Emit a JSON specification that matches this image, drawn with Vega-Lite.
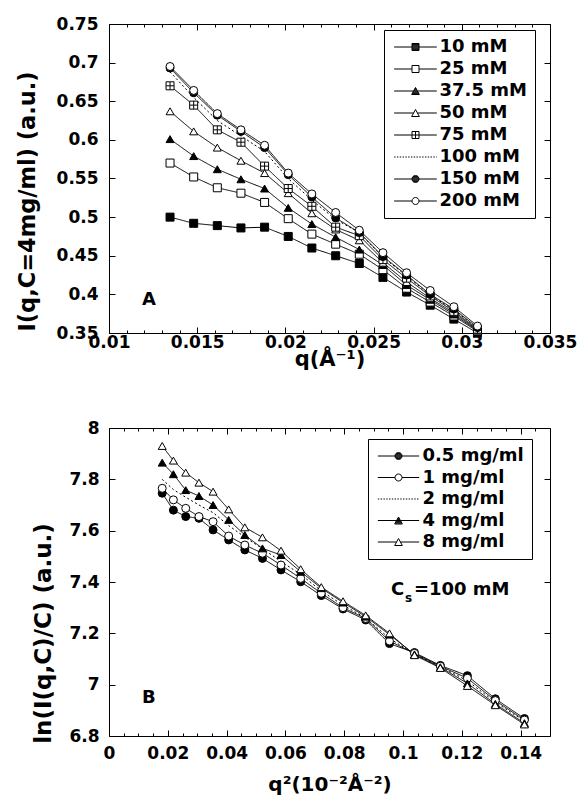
{
  "$schema": "https://vega.github.io/schema/vega-lite/v6.json",
  "autosize": {"type": "pad"},
  "padding": {"left": 15, "top": 14, "right": 0, "bottom": 0},
  "spacing": 95,
  "bounds": "flush",
  "background": "#ffffff",
  "config": {
    "view": {"stroke": "#000", "strokeWidth": 1},
    "font": "DejaVu Sans",
    "axis": {"grid": false, "domain": false, "labelFont": "DejaVu Sans", "labelFontWeight": "bold", "labelFontSize": 17, "labelColor": "#000", "tickColor": "#000", "tickWidth": 1, "titleFont": "DejaVu Sans", "titleFontWeight": "bold", "titleColor": "#000", "labelFlush": false, "labelOverlap": false, "labelBound": false},
    "text": {"font": "DejaVu Sans", "fontWeight": "bold", "fontSize": 18, "color": "#000"}
  },
  "datasets": {
    "top": [
      {"s":"10 mM","x":0.01346,"y":0.500},{"s":"10 mM","x":0.0148,"y":0.492},{"s":"10 mM","x":0.01614,"y":0.489},{"s":"10 mM","x":0.01748,"y":0.486},{"s":"10 mM","x":0.01882,"y":0.487},{"s":"10 mM","x":0.02016,"y":0.475},{"s":"10 mM","x":0.0215,"y":0.460},{"s":"10 mM","x":0.02285,"y":0.450},{"s":"10 mM","x":0.02419,"y":0.440},{"s":"10 mM","x":0.02553,"y":0.422},{"s":"10 mM","x":0.02687,"y":0.403},{"s":"10 mM","x":0.02821,"y":0.386},{"s":"10 mM","x":0.02955,"y":0.368},{"s":"10 mM","x":0.03089,"y":0.350},
      {"s":"25 mM","x":0.01346,"y":0.570},{"s":"25 mM","x":0.0148,"y":0.552},{"s":"25 mM","x":0.01614,"y":0.538},{"s":"25 mM","x":0.01748,"y":0.531},{"s":"25 mM","x":0.01882,"y":0.519},{"s":"25 mM","x":0.02016,"y":0.498},{"s":"25 mM","x":0.0215,"y":0.478},{"s":"25 mM","x":0.02285,"y":0.465},{"s":"25 mM","x":0.02419,"y":0.452},{"s":"25 mM","x":0.02553,"y":0.432},{"s":"25 mM","x":0.02687,"y":0.408},{"s":"25 mM","x":0.02821,"y":0.390},{"s":"25 mM","x":0.02955,"y":0.372},{"s":"25 mM","x":0.03089,"y":0.352},
      {"s":"37.5 mM","x":0.01346,"y":0.601},{"s":"37.5 mM","x":0.0148,"y":0.579},{"s":"37.5 mM","x":0.01614,"y":0.562},{"s":"37.5 mM","x":0.01748,"y":0.549},{"s":"37.5 mM","x":0.01882,"y":0.537},{"s":"37.5 mM","x":0.02016,"y":0.512},{"s":"37.5 mM","x":0.0215,"y":0.491},{"s":"37.5 mM","x":0.02285,"y":0.474},{"s":"37.5 mM","x":0.02419,"y":0.458},{"s":"37.5 mM","x":0.02553,"y":0.438},{"s":"37.5 mM","x":0.02687,"y":0.412},{"s":"37.5 mM","x":0.02821,"y":0.393},{"s":"37.5 mM","x":0.02955,"y":0.374},{"s":"37.5 mM","x":0.03089,"y":0.353},
      {"s":"50 mM","x":0.01346,"y":0.637},{"s":"50 mM","x":0.0148,"y":0.611},{"s":"50 mM","x":0.01614,"y":0.590},{"s":"50 mM","x":0.01748,"y":0.573},{"s":"50 mM","x":0.01882,"y":0.557},{"s":"50 mM","x":0.02016,"y":0.531},{"s":"50 mM","x":0.0215,"y":0.505},{"s":"50 mM","x":0.02285,"y":0.484},{"s":"50 mM","x":0.02419,"y":0.470},{"s":"50 mM","x":0.02553,"y":0.441},{"s":"50 mM","x":0.02687,"y":0.416},{"s":"50 mM","x":0.02821,"y":0.395},{"s":"50 mM","x":0.02955,"y":0.376},{"s":"50 mM","x":0.03089,"y":0.354},
      {"s":"75 mM","x":0.01346,"y":0.670},{"s":"75 mM","x":0.0148,"y":0.645},{"s":"75 mM","x":0.01614,"y":0.613},{"s":"75 mM","x":0.01748,"y":0.597},{"s":"75 mM","x":0.01882,"y":0.566},{"s":"75 mM","x":0.02016,"y":0.537},{"s":"75 mM","x":0.0215,"y":0.514},{"s":"75 mM","x":0.02285,"y":0.487},{"s":"75 mM","x":0.02419,"y":0.476},{"s":"75 mM","x":0.02553,"y":0.445},{"s":"75 mM","x":0.02687,"y":0.421},{"s":"75 mM","x":0.02821,"y":0.398},{"s":"75 mM","x":0.02955,"y":0.378},{"s":"75 mM","x":0.03089,"y":0.355},
      {"s":"100 mM","x":0.01346,"y":0.688},{"s":"100 mM","x":0.0148,"y":0.655},{"s":"100 mM","x":0.01614,"y":0.625},{"s":"100 mM","x":0.01748,"y":0.605},{"s":"100 mM","x":0.01882,"y":0.585},{"s":"100 mM","x":0.02016,"y":0.550},{"s":"100 mM","x":0.0215,"y":0.522},{"s":"100 mM","x":0.02285,"y":0.497},{"s":"100 mM","x":0.02419,"y":0.480},{"s":"100 mM","x":0.02553,"y":0.448},{"s":"100 mM","x":0.02687,"y":0.424},{"s":"100 mM","x":0.02821,"y":0.399},{"s":"100 mM","x":0.02955,"y":0.380},{"s":"100 mM","x":0.03089,"y":0.356},
      {"s":"150 mM","x":0.01346,"y":0.693},{"s":"150 mM","x":0.0148,"y":0.661},{"s":"150 mM","x":0.01614,"y":0.632},{"s":"150 mM","x":0.01748,"y":0.611},{"s":"150 mM","x":0.01882,"y":0.590},{"s":"150 mM","x":0.02016,"y":0.555},{"s":"150 mM","x":0.0215,"y":0.526},{"s":"150 mM","x":0.02285,"y":0.499},{"s":"150 mM","x":0.02419,"y":0.480},{"s":"150 mM","x":0.02553,"y":0.449},{"s":"150 mM","x":0.02687,"y":0.425},{"s":"150 mM","x":0.02821,"y":0.400},{"s":"150 mM","x":0.02955,"y":0.381},{"s":"150 mM","x":0.03089,"y":0.357},
      {"s":"200 mM","x":0.01346,"y":0.695},{"s":"200 mM","x":0.0148,"y":0.664},{"s":"200 mM","x":0.01614,"y":0.634},{"s":"200 mM","x":0.01748,"y":0.613},{"s":"200 mM","x":0.01882,"y":0.593},{"s":"200 mM","x":0.02016,"y":0.557},{"s":"200 mM","x":0.0215,"y":0.530},{"s":"200 mM","x":0.02285,"y":0.506},{"s":"200 mM","x":0.02419,"y":0.483},{"s":"200 mM","x":0.02553,"y":0.454},{"s":"200 mM","x":0.02687,"y":0.428},{"s":"200 mM","x":0.02821,"y":0.405},{"s":"200 mM","x":0.02955,"y":0.384},{"s":"200 mM","x":0.03089,"y":0.359}
    ],
    "bottom": [
      {"s":"0.5 mg/ml","x":0.0181,"y":7.746},{"s":"0.5 mg/ml","x":0.0219,"y":7.680},{"s":"0.5 mg/ml","x":0.0261,"y":7.655},{"s":"0.5 mg/ml","x":0.0306,"y":7.648},{"s":"0.5 mg/ml","x":0.0354,"y":7.603},{"s":"0.5 mg/ml","x":0.0407,"y":7.564},{"s":"0.5 mg/ml","x":0.0462,"y":7.525},{"s":"0.5 mg/ml","x":0.0522,"y":7.492},{"s":"0.5 mg/ml","x":0.0585,"y":7.447},{"s":"0.5 mg/ml","x":0.0652,"y":7.401},{"s":"0.5 mg/ml","x":0.0722,"y":7.347},{"s":"0.5 mg/ml","x":0.0796,"y":7.295},{"s":"0.5 mg/ml","x":0.0873,"y":7.252},{"s":"0.5 mg/ml","x":0.0954,"y":7.160},{"s":"0.5 mg/ml","x":0.1039,"y":7.125},{"s":"0.5 mg/ml","x":0.1127,"y":7.075},{"s":"0.5 mg/ml","x":0.1219,"y":7.035},{"s":"0.5 mg/ml","x":0.1314,"y":6.945},{"s":"0.5 mg/ml","x":0.1413,"y":6.868},
      {"s":"1 mg/ml","x":0.0181,"y":7.765},{"s":"1 mg/ml","x":0.0219,"y":7.720},{"s":"1 mg/ml","x":0.0261,"y":7.687},{"s":"1 mg/ml","x":0.0306,"y":7.655},{"s":"1 mg/ml","x":0.0354,"y":7.635},{"s":"1 mg/ml","x":0.0407,"y":7.579},{"s":"1 mg/ml","x":0.0462,"y":7.544},{"s":"1 mg/ml","x":0.0522,"y":7.512},{"s":"1 mg/ml","x":0.0585,"y":7.466},{"s":"1 mg/ml","x":0.0652,"y":7.414},{"s":"1 mg/ml","x":0.0722,"y":7.356},{"s":"1 mg/ml","x":0.0796,"y":7.300},{"s":"1 mg/ml","x":0.0873,"y":7.258},{"s":"1 mg/ml","x":0.0954,"y":7.170},{"s":"1 mg/ml","x":0.1039,"y":7.122},{"s":"1 mg/ml","x":0.1127,"y":7.072},{"s":"1 mg/ml","x":0.1219,"y":7.025},{"s":"1 mg/ml","x":0.1314,"y":6.938},{"s":"1 mg/ml","x":0.1413,"y":6.862},
      {"s":"2 mg/ml","x":0.0181,"y":7.800},{"s":"2 mg/ml","x":0.0219,"y":7.760},{"s":"2 mg/ml","x":0.0261,"y":7.730},{"s":"2 mg/ml","x":0.0306,"y":7.700},{"s":"2 mg/ml","x":0.0354,"y":7.670},{"s":"2 mg/ml","x":0.0407,"y":7.620},{"s":"2 mg/ml","x":0.0462,"y":7.575},{"s":"2 mg/ml","x":0.0522,"y":7.530},{"s":"2 mg/ml","x":0.0585,"y":7.480},{"s":"2 mg/ml","x":0.0652,"y":7.430},{"s":"2 mg/ml","x":0.0722,"y":7.365},{"s":"2 mg/ml","x":0.0796,"y":7.310},{"s":"2 mg/ml","x":0.0873,"y":7.260},{"s":"2 mg/ml","x":0.0954,"y":7.180},{"s":"2 mg/ml","x":0.1039,"y":7.120},{"s":"2 mg/ml","x":0.1127,"y":7.070},{"s":"2 mg/ml","x":0.1219,"y":7.015},{"s":"2 mg/ml","x":0.1314,"y":6.932},{"s":"2 mg/ml","x":0.1413,"y":6.858},
      {"s":"4 mg/ml","x":0.0181,"y":7.865},{"s":"4 mg/ml","x":0.0219,"y":7.820},{"s":"4 mg/ml","x":0.0261,"y":7.758},{"s":"4 mg/ml","x":0.0306,"y":7.735},{"s":"4 mg/ml","x":0.0354,"y":7.700},{"s":"4 mg/ml","x":0.0407,"y":7.642},{"s":"4 mg/ml","x":0.0462,"y":7.583},{"s":"4 mg/ml","x":0.0522,"y":7.531},{"s":"4 mg/ml","x":0.0585,"y":7.505},{"s":"4 mg/ml","x":0.0652,"y":7.440},{"s":"4 mg/ml","x":0.0722,"y":7.376},{"s":"4 mg/ml","x":0.0796,"y":7.320},{"s":"4 mg/ml","x":0.0873,"y":7.265},{"s":"4 mg/ml","x":0.0954,"y":7.195},{"s":"4 mg/ml","x":0.1039,"y":7.118},{"s":"4 mg/ml","x":0.1127,"y":7.068},{"s":"4 mg/ml","x":0.1219,"y":7.005},{"s":"4 mg/ml","x":0.1314,"y":6.925},{"s":"4 mg/ml","x":0.1413,"y":6.850},
      {"s":"8 mg/ml","x":0.0181,"y":7.930},{"s":"8 mg/ml","x":0.0219,"y":7.873},{"s":"8 mg/ml","x":0.0261,"y":7.826},{"s":"8 mg/ml","x":0.0306,"y":7.787},{"s":"8 mg/ml","x":0.0354,"y":7.752},{"s":"8 mg/ml","x":0.0407,"y":7.683},{"s":"8 mg/ml","x":0.0462,"y":7.613},{"s":"8 mg/ml","x":0.0522,"y":7.574},{"s":"8 mg/ml","x":0.0585,"y":7.522},{"s":"8 mg/ml","x":0.0652,"y":7.450},{"s":"8 mg/ml","x":0.0722,"y":7.380},{"s":"8 mg/ml","x":0.0796,"y":7.325},{"s":"8 mg/ml","x":0.0873,"y":7.270},{"s":"8 mg/ml","x":0.0954,"y":7.200},{"s":"8 mg/ml","x":0.1039,"y":7.115},{"s":"8 mg/ml","x":0.1127,"y":7.065},{"s":"8 mg/ml","x":0.1219,"y":6.995},{"s":"8 mg/ml","x":0.1314,"y":6.920},{"s":"8 mg/ml","x":0.1413,"y":6.845}
    ],
    "notesTop": [{"x": 0.01227, "y": 0.3927, "t": "A"}],
    "notesBottom": [{"x": 0.0136, "y": 6.948, "t": "B"}],
    "notesCs": [{"x": 0.0959, "y": 7.369, "t": "C"}]
  },
  "vconcat": [
    {
      "width": 441,
      "height": 309,
      "resolve": {"axis": {"x": "independent", "y": "independent"}, "scale": {"shape": "independent", "fill": "independent", "strokeDash": "independent"}},
      "layer": [
        {
          "data": {"name": "top"},
          "mark": {"type": "line", "color": "#000", "strokeWidth": 1},
          "encoding": {
            "x": {"field": "x", "type": "quantitative", "scale": {"domain": [0.01, 0.035], "nice": false, "zero": false},
              "axis": {"orient": "bottom", "values": [0.01, 0.015, 0.02, 0.025, 0.03, 0.035], "format": "~g", "tickSize": -6, "labelPadding": 7, "title": "q(Å⁻¹)", "titleFontSize": 21, "titleBaseline": "top", "titleY": 15}},
            "y": {"field": "y", "type": "quantitative", "scale": {"domain": [0.35, 0.75], "nice": false, "zero": false},
              "axis": {"orient": "left", "values": [0.35, 0.4, 0.45, 0.5, 0.55, 0.6, 0.65, 0.7, 0.75], "format": "~g", "tickSize": -6, "labelPadding": 17, "title": "I(q,C=4mg/ml)  (a.u.)", "titleFontSize": 22.5, "titleAngle": 270, "titleBaseline": "middle", "titleAlign": "center", "titleX": -82, "titleY": 177}},
            "strokeDash": {"field": "s", "type": "nominal", "scale": {"domain": ["10 mM", "25 mM", "37.5 mM", "50 mM", "75 mM", "100 mM", "150 mM", "200 mM"], "range": [[1, 0], [1, 0], [1, 0], [1, 0], [1, 0], [2, 2.5], [1, 0], [1, 0]]}, "legend": null}
          }
        },
        {
          "data": {"name": "top"},
          "transform": [{"filter": "datum.s !== '100 mM'"}],
          "mark": {"type": "point", "stroke": "#000", "strokeWidth": 1, "size": 64, "opacity": 1, "fillOpacity": 1},
          "encoding": {
            "x": {"field": "x", "type": "quantitative", "axis": {"orient": "top", "values": [0.01, 0.015, 0.02, 0.025, 0.03, 0.035], "labels": false, "tickSize": -6, "title": null}},
            "y": {"field": "y", "type": "quantitative", "axis": {"orient": "right", "values": [0.35, 0.4, 0.45, 0.5, 0.55, 0.6, 0.65, 0.7, 0.75], "labels": false, "tickSize": -6, "title": null}},
            "shape": {"field": "s", "type": "nominal", "scale": {"domain": ["10 mM", "25 mM", "37.5 mM", "50 mM", "75 mM", "150 mM", "200 mM"], "range": ["square", "square", "triangle-up", "triangle-up", "M-1,-1H1V1H-1ZM0,-1V1M-1,0H1", "circle", "circle"]}, "legend": null},
            "fill": {"field": "s", "type": "nominal", "scale": {"domain": ["10 mM", "25 mM", "37.5 mM", "50 mM", "75 mM", "150 mM", "200 mM"], "range": ["#000", "#fff", "#000", "#fff", "#fff", "#000", "#fff"]}, "legend": null}
          }
        },
        {
          "data": {"name": "top"},
          "mark": {"type": "point", "stroke": "#000", "strokeWidth": 1, "size": 49, "opacity": 0},
          "encoding": {
            "x": {"field": "x", "type": "quantitative", "axis": {"orient": "bottom", "values": [0.011, 0.012, 0.013, 0.014, 0.016, 0.017, 0.018, 0.019, 0.021, 0.022, 0.023, 0.024, 0.026, 0.027, 0.028, 0.029, 0.031, 0.032, 0.033, 0.034], "labels": false, "tickSize": -3, "title": null}},
            "y": {"field": "y", "type": "quantitative", "axis": null},
            "shape": {"field": "s", "type": "nominal", "scale": {"domain": ["10 mM", "25 mM", "37.5 mM", "50 mM", "75 mM", "100 mM", "150 mM", "200 mM"], "range": [
              "M-6.1,0H-1M1,0H6.1M-1,-1H1V1H-1ZM-1,-0.75H1M-1,-0.5H1M-1,-0.25H1M-1,0H1M-1,0.25H1M-1,0.5H1M-1,0.75H1",
              "M-6.1,0H-1M1,0H6.1M-1,-1H1V1H-1Z",
              "M-6.1,0H-0.55M0.55,0H6.1M0,-1L1.1,1H-1.1ZM-0.14,-0.75H0.14M-0.28,-0.5H0.28M-0.41,-0.25H0.41M-0.55,0H0.55M-0.69,0.25H0.69M-0.83,0.5H0.83M-0.96,0.75H0.96",
              "M-6.1,0H-0.55M0.55,0H6.1M0,-1L1.1,1H-1.1Z",
              "M-6.1,0H-1M1,0H6.1M-1,-1H1V1H-1ZM0,-1V1M-1,0H1",
              "M-6.1,0h0.4M-5.3,0h0.4M-4.5,0h0.4M-3.7,0h0.4M-2.9,0h0.4M-2.1,0h0.4M-1.3,0h0.4M-0.5,0h0.4M0.3,0h0.4M1.1,0h0.4M1.9,0h0.4M2.7,0h0.4M3.5,0h0.4M4.3,0h0.4M5.1,0h0.4M5.9,0h0.2",
              "M-6.1,0H-1M1,0H6.1M-1,0A1,1 0 1,0 1,0A1,1 0 1,0 -1,0ZM-0.66,-0.75H0.66M-0.87,-0.5H0.87M-0.97,-0.25H0.97M-1,0H1M-0.97,0.25H0.97M-0.87,0.5H0.87M-0.66,0.75H0.66",
              "M-6.1,0H-1M1,0H6.1M-1,0A1,1 0 1,0 1,0A1,1 0 1,0 -1,0Z"]},
              "legend": {"title": null, "orient": "none", "legendX": 275, "legendY": 6, "direction": "vertical", "padding": 8, "strokeColor": "#000", "fillColor": "#fff", "symbolSize": 49, "symbolStrokeWidth": 1, "symbolOffset": 14.5, "labelOffset": 15, "labelFont": "DejaVu Sans", "labelFontWeight": "bold", "labelFontSize": 18, "labelColor": "#000", "rowPadding": 4, "labelLimit": 0}}
          }
        },
        {
          "data": {"name": "notesTop"},
          "mark": {"type": "text", "align": "center", "baseline": "middle", "fontSize": 18, "fontWeight": "bold"},
          "encoding": {
            "x": {"field": "x", "type": "quantitative", "axis": {"orient": "top", "values": [0.011, 0.012, 0.013, 0.014, 0.016, 0.017, 0.018, 0.019, 0.021, 0.022, 0.023, 0.024, 0.026, 0.027, 0.028, 0.029, 0.031, 0.032, 0.033, 0.034], "labels": false, "tickSize": -3, "title": null}},
            "y": {"field": "y", "type": "quantitative", "axis": null},
            "text": {"field": "t"}
          }
        }
      ]
    },
    {
      "width": 441,
      "height": 308,
      "resolve": {"axis": {"x": "independent", "y": "independent"}, "scale": {"shape": "independent", "fill": "independent", "strokeDash": "independent"}},
      "layer": [
        {
          "data": {"name": "bottom"},
          "mark": {"type": "line", "color": "#000", "strokeWidth": 1},
          "encoding": {
            "x": {"field": "x", "type": "quantitative", "scale": {"domain": [0, 0.15], "nice": false, "zero": false},
              "axis": {"orient": "bottom", "values": [0, 0.02, 0.04, 0.06, 0.08, 0.1, 0.12, 0.14], "format": "~g", "tickSize": -6, "labelPadding": 15, "title": "q²(10⁻²Å⁻²)", "titleFontSize": 20, "titleBaseline": "top", "titleY": 38}},
            "y": {"field": "y", "type": "quantitative", "scale": {"domain": [6.8, 8], "nice": false, "zero": false},
              "axis": {"orient": "left", "values": [6.8, 7, 7.2, 7.4, 7.6, 7.8, 8], "format": "~g", "tickSize": -6, "labelPadding": 16, "title": "ln(I(q,C)/C)  (a.u.)", "titleFontSize": 23, "titleAngle": 270, "titleBaseline": "middle", "titleAlign": "center", "titleX": -66, "titleY": 205}},
            "strokeDash": {"field": "s", "type": "nominal", "scale": {"domain": ["0.5 mg/ml", "1 mg/ml", "2 mg/ml", "4 mg/ml", "8 mg/ml"], "range": [[1, 0], [1, 0], [2, 2.5], [1, 0], [1, 0]]}, "legend": null}
          }
        },
        {
          "data": {"name": "bottom"},
          "transform": [{"filter": "datum.s !== '2 mg/ml'"}],
          "mark": {"type": "point", "stroke": "#000", "strokeWidth": 1, "size": 64, "opacity": 1, "fillOpacity": 1},
          "encoding": {
            "x": {"field": "x", "type": "quantitative", "axis": {"orient": "top", "values": [0, 0.02, 0.04, 0.06, 0.08, 0.1, 0.12, 0.14], "labels": false, "tickSize": -6, "title": null}},
            "y": {"field": "y", "type": "quantitative", "axis": {"orient": "right", "values": [6.8, 7, 7.2, 7.4, 7.6, 7.8, 8], "labels": false, "tickSize": -6, "title": null}},
            "shape": {"field": "s", "type": "nominal", "scale": {"domain": ["0.5 mg/ml", "1 mg/ml", "4 mg/ml", "8 mg/ml"], "range": ["circle", "circle", "triangle-up", "triangle-up"]}, "legend": null},
            "fill": {"field": "s", "type": "nominal", "scale": {"domain": ["0.5 mg/ml", "1 mg/ml", "4 mg/ml", "8 mg/ml"], "range": ["#000", "#fff", "#000", "#fff"]}, "legend": null}
          }
        },
        {
          "data": {"name": "bottom"},
          "mark": {"type": "point", "stroke": "#000", "strokeWidth": 1, "size": 49, "opacity": 0},
          "encoding": {
            "x": {"field": "x", "type": "quantitative", "axis": {"orient": "bottom", "values": [0.005, 0.01, 0.015, 0.025, 0.03, 0.035, 0.045, 0.05, 0.055, 0.065, 0.07, 0.075, 0.085, 0.09, 0.095, 0.105, 0.11, 0.115, 0.125, 0.13, 0.135, 0.145], "labels": false, "tickSize": -3, "title": null}},
            "y": {"field": "y", "type": "quantitative", "axis": null},
            "shape": {"field": "s", "type": "nominal", "scale": {"domain": ["0.5 mg/ml", "1 mg/ml", "2 mg/ml", "4 mg/ml", "8 mg/ml"], "range": [
              "M-5.9,0H-1M1,0H5.9M-1,0A1,1 0 1,0 1,0A1,1 0 1,0 -1,0ZM-0.66,-0.75H0.66M-0.87,-0.5H0.87M-0.97,-0.25H0.97M-1,0H1M-0.97,0.25H0.97M-0.87,0.5H0.87M-0.66,0.75H0.66",
              "M-5.9,0H-1M1,0H5.9M-1,0A1,1 0 1,0 1,0A1,1 0 1,0 -1,0Z",
              "M-5.9,0h0.4M-5.1,0h0.4M-4.3,0h0.4M-3.5,0h0.4M-2.7,0h0.4M-1.9,0h0.4M-1.1,0h0.4M-0.3,0h0.4M0.5,0h0.4M1.3,0h0.4M2.1,0h0.4M2.9,0h0.4M3.7,0h0.4M4.5,0h0.4M5.3,0h0.4",
              "M-5.9,0H-0.55M0.55,0H5.9M0,-1L1.1,1H-1.1ZM-0.14,-0.75H0.14M-0.28,-0.5H0.28M-0.41,-0.25H0.41M-0.55,0H0.55M-0.69,0.25H0.69M-0.83,0.5H0.83M-0.96,0.75H0.96",
              "M-5.9,0H-0.55M0.55,0H5.9M0,-1L1.1,1H-1.1Z"]},
              "legend": {"title": null, "orient": "none", "legendX": 259, "legendY": 11, "direction": "vertical", "padding": 8, "strokeColor": "#000", "fillColor": "#fff", "symbolSize": 49, "symbolStrokeWidth": 1, "symbolOffset": 13.5, "labelOffset": 15, "labelFont": "DejaVu Sans", "labelFontWeight": "bold", "labelFontSize": 18, "labelColor": "#000", "rowPadding": 3.5, "labelLimit": 0}}
          }
        },
        {
          "data": {"name": "notesBottom"},
          "mark": {"type": "text", "align": "center", "baseline": "middle", "fontSize": 18, "fontWeight": "bold"},
          "encoding": {
            "x": {"field": "x", "type": "quantitative", "axis": {"orient": "top", "values": [0.005, 0.01, 0.015, 0.025, 0.03, 0.035, 0.045, 0.05, 0.055, 0.065, 0.07, 0.075, 0.085, 0.09, 0.095, 0.105, 0.11, 0.115, 0.125, 0.13, 0.135, 0.145], "labels": false, "tickSize": -3, "title": null}},
            "y": {"field": "y", "type": "quantitative", "axis": null},
            "text": {"field": "t"}
          }
        },
        {
          "data": {"name": "notesCs"},
          "mark": {"type": "text", "align": "left", "baseline": "middle", "fontSize": 18, "fontWeight": "bold"},
          "encoding": {
            "x": {"field": "x", "type": "quantitative", "axis": null},
            "y": {"field": "y", "type": "quantitative", "axis": null},
            "text": {"field": "t"}
          }
        },
        {
          "data": {"name": "notesCs"},
          "mark": {"type": "text", "align": "left", "baseline": "middle", "fontSize": 12, "fontWeight": "bold", "text": "s", "dx": 14, "dy": 8},
          "encoding": {
            "x": {"field": "x", "type": "quantitative", "axis": null},
            "y": {"field": "y", "type": "quantitative", "axis": null}
          }
        },
        {
          "data": {"name": "notesCs"},
          "mark": {"type": "text", "align": "left", "baseline": "middle", "fontSize": 18, "fontWeight": "bold", "text": "=100 mM", "dx": 23},
          "encoding": {
            "x": {"field": "x", "type": "quantitative", "axis": null},
            "y": {"field": "y", "type": "quantitative", "axis": null}
          }
        }
      ]
    }
  ]
}
